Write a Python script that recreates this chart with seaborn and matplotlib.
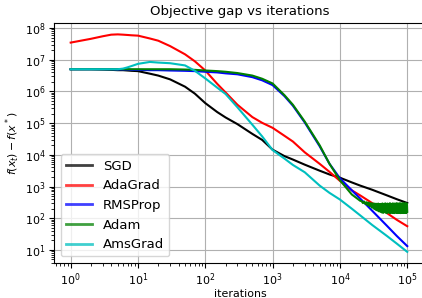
import matplotlib
matplotlib.use("Agg")
import matplotlib.pyplot as plt
import seaborn as sns
import pandas as pd

iters = [1, 2, 3, 4, 5, 6, 7, 8, 10, 15, 20, 30, 50, 70, 100, 150, 200, 300, 500,
         700, 1000, 1500, 2000, 3000, 5000, 7000, 10000, 15000, 20000, 30000,
         50000, 70000, 100000]

sgd = [5.01e6, 5.01e6, 4.9e6, 4.79e6, 4.68e6, 4.68e6, 4.57e6, 4.47e6, 4.37e6,
       3.63e6, 3.16e6, 2.40e6, 1.41e6, 8.5e5, 4.27e5, 2.24e5, 1.51e5, 9.3e4,
       4.57e4, 2.95e4, 1.45e4, 9.1e3, 7.1e3, 4.9e3, 3.16e3, 2.4e3, 1.9e3,
       1.35e3, 1.07e3, 794, 525, 398, 302]

adagrad = [3.47e7, 4.57e7, 5.5e7, 6.17e7, 6.3e7, 6.17e7, 6.03e7, 5.9e7, 5.75e7,
           4.68e7, 3.98e7, 2.69e7, 1.48e7, 8.9e6, 4.57e6, 1.74e6, 9.3e5, 3.8e5,
           1.55e5, 1.02e5, 7.1e4, 3.98e4, 2.63e4, 1.2e4, 5.2e3, 2.9e3, 1.51e3,
           760, 525, 302, 145, 89, 56]

rmsprop = [5.01e6, 5.01e6, 5.01e6, 5.01e6, 4.9e6, 4.9e6, 4.9e6, 4.79e6, 4.79e6,
           4.68e6, 4.68e6, 4.57e6, 4.47e6, 4.37e6, 4.17e6, 3.98e6, 3.72e6,
           3.47e6, 2.82e6, 2.24e6, 1.58e6, 7.1e5, 3.55e5, 1.05e5, 1.86e4,
           5.2e3, 1.82e3, 760, 417, 174, 57.5, 27.5, 13.2]

adam = [5.01e6, 5.01e6, 5.01e6, 5.01e6, 5.01e6, 5.01e6, 5.01e6, 5.01e6, 5.01e6,
        5.01e6, 5.01e6, 5.01e6, 4.9e6, 4.79e6, 4.57e6, 4.37e6, 4.17e6, 3.8e6,
        3.16e6, 2.51e6, 1.78e6, 7.6e5, 3.8e5, 1.12e5, 2.0e4, 5.2e3, 1.58e3,
        562, 355]

adam_tail_iters = [21000, 22000, 23000, 24000, 25000, 26000, 27000, 28000,
                   29000, 30000, 31000, 32000, 33000, 34000, 35000, 36000,
                   37000, 38000, 39000, 40000, 41000, 42000, 43000, 44000,
                   45000, 46000, 47000, 48000, 49000, 50000, 51000, 52000,
                   53000, 54000, 55000, 56000, 57000, 58000, 59000, 60000,
                   61000, 62000, 63000, 64000, 65000, 66000, 67000, 68000,
                   69000, 70000, 71000, 72000, 73000, 74000, 75000, 76000,
                   77000, 78000, 79000, 80000, 81000, 82000, 83000, 84000,
                   85000, 86000, 87000, 88000, 89000, 90000, 91000, 92000,
                   93000, 94000, 95000, 96000, 97000, 98000, 99000, 100000]
adam_tail = [345, 300, 335, 280, 320, 255, 310, 235, 300, 215,
             295, 200, 290, 185, 285, 175, 290, 165, 280, 160,
             285, 152, 292, 148, 280, 155, 295, 150, 285, 145,
             290, 155, 282, 150, 296, 146, 288, 152, 280, 148,
             294, 150, 285, 145, 290, 155, 283, 148, 297, 150,
             286, 146, 292, 153, 281, 148, 295, 150, 288, 145,
             290, 152, 284, 148, 296, 150, 287, 146, 291, 153,
             283, 148, 295, 150, 286, 146, 292, 152, 284, 160]

amsgrad = [5.01e6, 5.01e6, 5.01e6, 5.01e6, 5.01e6, 5.25e6, 5.75e6, 6.31e6, 7.41e6,
           8.51e6, 8.13e6, 7.76e6, 6.61e6, 4.47e6, 2.57e6, 1.32e6, 8.3e5, 3.16e5,
           8.9e4, 3.8e4, 1.41e4, 7.6e3, 4.8e3, 2.82e3, 1.07e3, 631, 389, 200,
           123, 61.7, 27.5, 15.8, 8.7]

methods = ["SGD", "AdaGrad", "RMSProp", "Adam", "AmsGrad"]
colors = ["black", "red", "blue", "green", "c"]
x_ticks = [1e0, 1e1, 1e2, 1e3, 1e4, 1e5]
y_ticks = [1e1, 1e2, 1e3, 1e4, 1e5, 1e6, 1e7, 1e8]

rows = []
series = {
    "SGD": (iters, sgd),
    "AdaGrad": (iters, adagrad),
    "RMSProp": (iters, rmsprop),
    "Adam": (iters[:len(adam)] + adam_tail_iters, adam + adam_tail),
    "AmsGrad": (iters, amsgrad),
}
for m in methods:
    xs, ys = series[m]
    for x, y in zip(xs, ys):
        rows.append({"iterations": x, "gap": y, "method": m})
df = pd.DataFrame(rows)

fig = plt.figure(figsize=(4.22, 2.98), dpi=100)
ax = fig.add_axes([54 / 422, 35 / 298, (426 - 54) / 422, (263 - 23) / 298])

sns.lineplot(data=df, x="iterations", y="gap", hue="method", hue_order=methods,
             palette=dict(zip(methods, colors)), estimator=None, sort=False,
             linewidth=1.5, ax=ax, legend=True)

ax.set_xscale("log")
ax.set_yscale("log")
ax.set_xticks(x_ticks)
ax.set_yticks(y_ticks)
ax.set_xlim(0.565, 1.9e5)
ax.set_ylim(3.87, 1.44e8)
ax.spines["right"].set_visible(False)
ax.xaxis.grid(True, color="#b0b0b0", linewidth=0.8)
ax.yaxis.grid(True, color="#b0b0b0", linewidth=0.8)
ax.tick_params(axis="both", which="major", labelsize=8, length=3.5, width=0.8, pad=2.5)
ax.tick_params(axis="both", which="minor", length=2, width=0.6)
ax.set_title("Objective gap vs iterations", fontsize=9.5)
ax.set_xlabel("iterations", fontsize=7.9, labelpad=1)
ax.set_ylabel(r"$f(x_t) - f(x^*)$", fontsize=7.9, labelpad=2)

sns.move_legend(ax, "lower left", title=None, fontsize=9.5, frameon=True)
leg = ax.get_legend()
for h in leg.legend_handles:
    h.set_alpha(0.75)
    h.set_linewidth(2)

fig.savefig("out.png", dpi=100)
